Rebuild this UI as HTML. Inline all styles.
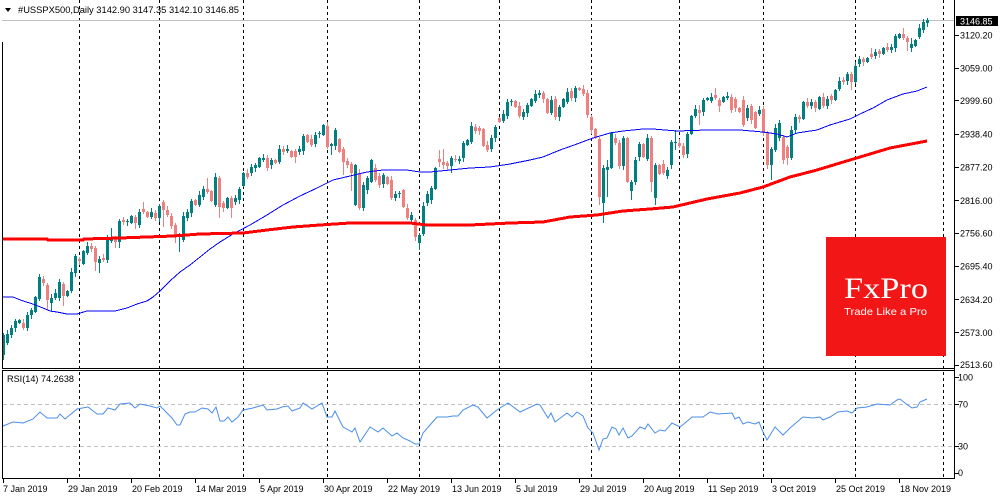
<!DOCTYPE html>
<html><head><meta charset="utf-8"><style>
html,body{margin:0;padding:0;background:#fff;}
svg{display:block;font-family:"Liberation Sans",sans-serif;}
</style></head><body>
<svg width="1000" height="500" viewBox="0 0 1000 500" xmlns="http://www.w3.org/2000/svg">
<rect width="1000" height="500" fill="#fff"/>
<!-- period separators -->
<path d="M79.5 0V478M159.5 0V478M243.5 0V478M327.5 0V478M419.5 0V478M499.5 0V478M591.5 0V478M679.5 0V478M763.5 0V478M855.5 0V478M943.5 0V478" stroke="#000" stroke-width="1" stroke-dasharray="3,3" shape-rendering="crispEdges" fill="none"/>
<!-- bid line -->
<path d="M2 20.5H954" stroke="#c0c0c0" stroke-width="1" shape-rendering="crispEdges"/>
<!-- RSI levels -->
<path d="M3 404.5H954M3 446.5H954" stroke="#c0c0c0" stroke-width="1" stroke-dasharray="4,3" shape-rendering="crispEdges"/>
<!-- candles -->
<g id="cd" shape-rendering="crispEdges"></g>
<!-- blue MA -->
<polyline fill="none" stroke="#0000ff" stroke-width="1" shape-rendering="crispEdges" points="3,297 13,297 23,301 33,304 43,308 50,311 57,312 67,314 77,314 87,311 115,311 127,308 137,304 147,301 153,297 160,291 170,281 180,272 190,265 200,257 210,249 220,242 233,234 250,225 267,215 283,205 300,196 317,188 333,180 350,176 367,172 383,170 407,170 420,172 430,172 450,170 470,168 490,167 510,164 530,160 543,157 560,150 577,144 593,138 610,133 623,131 643,129 653,129 677,131 707,130 740,130 763,132 777,134 787,137 797,133 817,130 830,125 850,119 860,114 873,108 887,100 903,94 917,91 927,87"/>
<!-- red MA -->
<polyline fill="none" stroke="#ff0000" stroke-width="3" shape-rendering="crispEdges" points="3,239 47,239 48,240 83,240 84,239 120,238 147,237 173,236 200,234 243,233 267,230 293,227 320,225 350,223 383,223 410,223 427,225 470,225 510,223 543,222 570,217 597,215 623,211 650,209 673,207 707,199 740,193 763,187 790,177 817,170 840,163 860,157 890,148 927,141"/>
<!-- RSI -->
<polyline fill="none" stroke="#4a8fe8" stroke-width="1" points="3,426 13,422 23,423 33,419 40,412 47,418 57,418 60,414 65,419 77,409 88,407 97,414 103,414 108,408 115,410 120,404 130,403 135,408 140,404 150,406 157,408 160,406 167,413 172,418 177,425 180,425 185,414 190,412 195,412 202,408 208,409 212,413 216,407 220,421 224,421 228,417 232,422 238,417 243,410 253,408 263,405 267,410 277,409 282,407 288,406 292,411 300,408 303,403 312,409 322,403 327,417 332,417 335,411 343,427 352,432 355,428 360,442 370,427 378,432 383,428 392,436 397,433 403,438 410,441 415,444 419,444 423,433 430,425 437,417 447,417 453,416 458,416 463,410 473,405 478,407 487,418 497,410 508,403 520,412 537,404 540,405 548,418 551,413 555,422 567,413 572,417 577,412 583,416 588,428 593,433 599,450 603,439 607,438 612,427 616,429 619,435 623,428 628,438 632,436 640,427 645,429 648,424 655,433 660,430 665,431 672,423 680,427 685,423 692,417 703,417 710,412 718,414 732,413 735,419 739,417 743,424 748,422 755,424 759,422 763,432 767,440 775,427 783,435 790,428 797,422 803,417 813,418 820,417 823,420 830,417 838,412 847,411 852,413 857,408 867,407 877,404 890,405 897,400 900,399 905,403 912,408 917,407 920,402 927,399"/>
<!-- FxPro logo -->
<rect x="826" y="237" width="120" height="119" fill="#f21616"/>
<text x="844" y="298" font-family="Liberation Serif, serif" font-size="30" fill="#fff" textLength="84" lengthAdjust="spacingAndGlyphs">FxPro</text>
<text x="844" y="315" font-size="10.5" fill="#fff" textLength="83" lengthAdjust="spacingAndGlyphs">Trade Like a Pro</text>
<!-- frames -->
<path d="M2.5 42V368M2.5 370V479M2 368.5H955M2 370.5H955M2 478.5H955M954.5 0V479" stroke="#000" stroke-width="1" fill="none" shape-rendering="crispEdges"/>
<!-- right ticks -->
<path d="M955 35.5H959M955 68.5H959M955 100.5H959M955 134.5H959M955 167.5H959M955 200.5H959M955 233.5H959M955 266.5H959M955 299.5H959M955 332.5H959M955 365.5H959M955 377.5H959M955 404.5H959M955 446.5H959M955 473.5H959" stroke="#000" stroke-width="1" shape-rendering="crispEdges"/>
<!-- bottom ticks -->
<path d="M3.5 479V483M67.5 479V483M131.5 479V483M195.5 479V483M259.5 479V483M323.5 479V483M387.5 479V483M451.5 479V483M515.5 479V483M579.5 479V483M643.5 479V483M707.5 479V483M771.5 479V483M835.5 479V483M899.5 479V483" stroke="#000" stroke-width="1" shape-rendering="crispEdges"/>
<!-- price labels -->
<g font-size="9" fill="#000">
<text x="960" y="38.5">3120.20</text>
<text x="960" y="71.5">3059.00</text>
<text x="960" y="104">2999.60</text>
<text x="960" y="137.5">2938.40</text>
<text x="960" y="170.5">2877.20</text>
<text x="960" y="204">2816.00</text>
<text x="960" y="236.5">2756.60</text>
<text x="960" y="269.5">2695.40</text>
<text x="960" y="303">2634.20</text>
<text x="960" y="336">2573.00</text>
<text x="960" y="368">2513.60</text>
<text x="958" y="380.5">100</text>
<text x="958" y="407.5">70</text>
<text x="958" y="449.5">30</text>
<text x="958" y="476">0</text>
</g>
<rect x="956" y="16" width="42" height="10" fill="#000"/>
<text x="960" y="24.5" font-size="9" fill="#fff">3146.85</text>
<!-- date labels -->
<g font-size="9" fill="#000">
<text x="3" y="492">7 Jan 2019</text>
<text x="68" y="492">29 Jan 2019</text>
<text x="132" y="492">20 Feb 2019</text>
<text x="196" y="492">14 Mar 2019</text>
<text x="260" y="492">5 Apr 2019</text>
<text x="324" y="492">30 Apr 2019</text>
<text x="388" y="492">22 May 2019</text>
<text x="452" y="492">13 Jun 2019</text>
<text x="516" y="492">5 Jul 2019</text>
<text x="580" y="492">29 Jul 2019</text>
<text x="644" y="492">20 Aug 2019</text>
<text x="708" y="492">11 Sep 2019</text>
<text x="772" y="492">3 Oct 2019</text>
<text x="836" y="492">25 Oct 2019</text>
<text x="900" y="492">18 Nov 2019</text>
</g>
<!-- header -->
<polygon points="5,8 11,8 8,12" fill="#000"/>
<text x="18" y="13" font-size="9" fill="#000" textLength="221" lengthAdjust="spacingAndGlyphs">#USSPX500,Daily  3142.90 3147.35 3142.10 3146.85</text>
<text x="7" y="382" font-size="9" fill="#000" textLength="67" lengthAdjust="spacingAndGlyphs">RSI(14) 74.2638</text>
</svg>
<script>
(function(){
var D=[[355,335],[343,334],[335,328],[328,321],[323,320],[323,328],[328,315],[315,310],[312,297],[299,277],
[279,283],[285,300],[303,298],[298,293],[298,282],[284,296],[296,291],[291,272],[273,256],[259,261],
[264,251],[253,246],[246,249],[248,262],[263,259],[258,260],[260,238],[241,237],[238,242],[242,221],
[220,222],[222,221],[223,216],[217,223],[225,212],[209,212],[212,217],[217,212],[213,218],[218,206],
[202,210],[210,215],[216,226],[225,237],[237,236],[240,216],[218,212],[213,201],[200,205],[205,195],
[197,189],[189,192],[191,201],[205,177],[178,207],[203,208],[208,198],[198,208],[202,198],[200,189],
[186,173],[173,177],[173,167],[168,165],[167,158],[160,158],[158,168],[165,160],[160,163],[162,149],
[149,152],[151,149],[151,157],[151,157],[152,149],[151,136],[135,142],[139,145],[144,135],[134,133],
[135,125],[126,147],[146,144],[146,130],[139,152],[149,162],[161,165],[164,173],[205,165],[173,208],
[208,185],[190,178],[182,160],[168,180],[176,185],[184,175],[177,184],[180,198],[198,194],[194,193],
[190,207],[208,218],[220,215],[220,237],[243,235],[234,206],[203,194],[200,188],[189,168],[159,162],
[162,165],[163,166],[166,158],[159,160],[161,159],[158,143],[145,140],[142,126],[127,131],[128,131],
[129,146],[145,150],[149,138],[138,127],[118,122],[121,114],[116,102],[102,101],[101,107],[106,116],
[117,112],[113,105],[106,99],[101,94],[95,93],[93,99],[99,113],[113,100],[99,117],[117,107],
[107,99],[102,92],[91,98],[98,88],[88,90],[89,94],[93,115],[117,130],[129,138],[139,197],
[203,168],[170,167],[168,133],[138,143],[143,166],[166,138],[138,182],[191,182],[182,160],[157,144],
[144,157],[159,138],[138,182],[198,165],[165,174],[164,173],[176,170],[165,142],[143,142],[143,146],
[146,155],[154,134],[134,116],[116,109],[110,113],[112,100],[100,98],[101,97],[95,98],[100,106],
[102,97],[98,96],[97,110],[99,108],[108,112],[100,125],[118,108],[106,120],[112,128],[114,110],
[109,133],[133,165],[165,149],[150,128],[138,123],[137,160],[147,158],[158,130],[130,117],[117,119],
[119,102],[102,106],[106,102],[102,108],[109,97],[97,106],[106,99],[96,100],[100,90],[89,81],
[80,82],[81,74],[74,82],[82,66],[64,59],[59,62],[62,58],[54,57],[56,52],[51,54],
[54,48],[47,50],[50,47],[48,36],[38,34],[34,38],[38,42],[48,44],[46,40],[37,28],
[30,22],[23,20]];
var ov={0:[333,360],9:[274,301],11:[283,310],12:[294,311],15:[282,306],17:[268,293],18:[254,277],23:[246,271],24:[256,273],27:[228,243],28:[236,248],29:[219,248],33:[215,229],35:[202,214],40:[200,227],43:[223,243],44:[233,252],51:[178,194],54:[176,218],57:[196,218],71:[145,153],73:[149,163],82:[143,155],85:[147,175],87:[162,191],104:[233,250],109:[150,167],110:[149,169],112:[156,173],149:[137,205],150:[165,223],151:[160,197],157:[180,200],162:[136,192],163:[163,205],168:[130,150],174:[105,125],178:[88,100],179:[98,112],192:[147,180],196:[145,165],212:[72,90],217:[48,59],225:[28,40],226:[36,51],227:[38,52]};
var ns='http://www.w3.org/2000/svg',g=document.getElementById('cd');
function mk(x,y,w,h,f){var r=document.createElementNS(ns,'rect');r.setAttribute('x',x);r.setAttribute('y',y);r.setAttribute('width',w);r.setAttribute('height',h);r.setAttribute('fill',f);g.appendChild(r);}
for(var i=0;i<D.length;i++){
 var o=D[i][0],c=D[i][1],x=3+4*i,t=Math.min(o,c),b=Math.max(o,c),h=Math.max(1,b-t);
 var hi=t-(1+(i*7)%4),lo=b+(1+(i*5)%4);
 if(ov[i]){hi=Math.min(ov[i][0],t);lo=Math.max(ov[i][1],t+h);}
 var col=(c<=o)?'#008080':'#f08080';
 mk(x,hi,1,lo-hi,col);
 mk(x-1,t,3,h,col);
}
})();
</script>
</body></html>
